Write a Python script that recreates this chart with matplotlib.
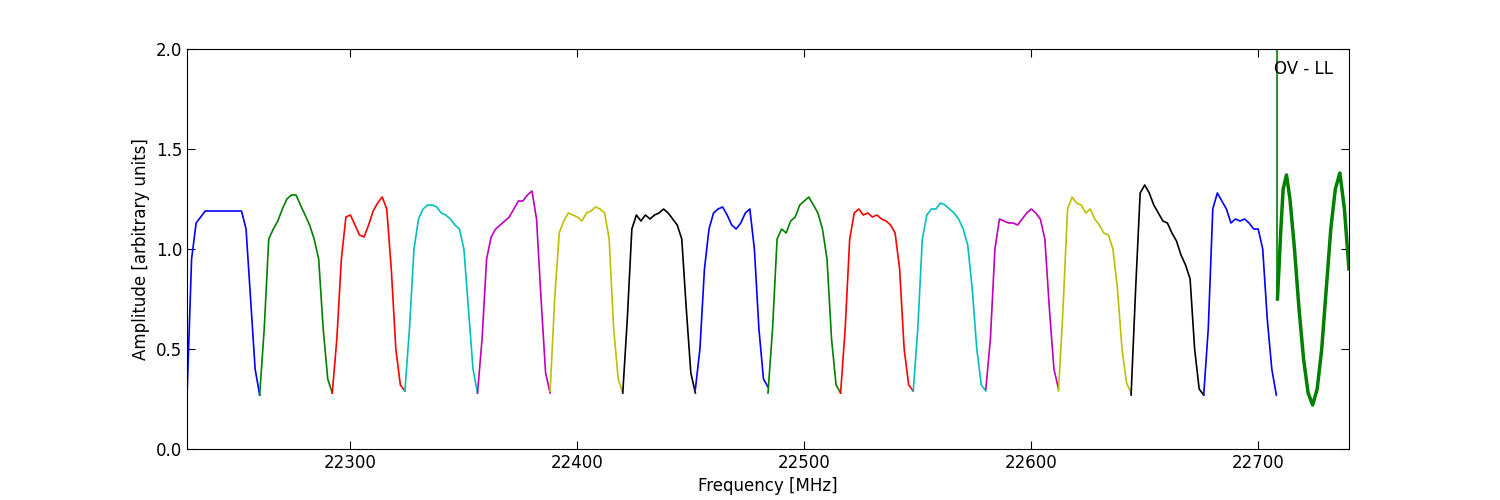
import matplotlib
matplotlib.use("Agg")
import matplotlib.pyplot as plt
import numpy as np

band_starts = [22228, 22260, 22292, 22324, 22356, 22388, 22420, 22452,
               22484, 22516, 22548, 22580, 22612, 22644, 22676]
band_colors = ['b', 'g', 'r', 'c', 'm', 'y', 'k', 'b', 'g', 'r', 'c', 'm', 'y', 'k', 'b']
band_offsets = list(range(0, 33, 2))
band_values = [
    [.27, .95, 1.13, 1.16, 1.19, 1.19, 1.19, 1.19, 1.19, 1.19, 1.19, 1.19, 1.19, 1.1, .75, .4, .27],
    [.27, .6, 1.05, 1.1, 1.14, 1.2, 1.25, 1.27, 1.27, 1.22, 1.17, 1.12, 1.05, .95, .6, .35, .28],
    [.28, .55, .95, 1.16, 1.17, 1.12, 1.07, 1.06, 1.12, 1.19, 1.23, 1.26, 1.2, .9, .5, .32, .29],
    [.29, .6, 1.0, 1.15, 1.2, 1.22, 1.22, 1.21, 1.18, 1.17, 1.15, 1.12, 1.1, 1.0, .7, .4, .28],
    [.28, .55, .95, 1.06, 1.1, 1.12, 1.14, 1.16, 1.2, 1.24, 1.24, 1.27, 1.29, 1.15, .75, .38, .28],
    [.29, .75, 1.08, 1.14, 1.18, 1.17, 1.16, 1.14, 1.18, 1.19, 1.21, 1.2, 1.18, 1.05, .6, .35, .28],
    [.28, .65, 1.1, 1.17, 1.14, 1.17, 1.15, 1.17, 1.18, 1.2, 1.18, 1.15, 1.12, 1.05, .7, .38, .28],
    [.3, .5, .9, 1.1, 1.18, 1.2, 1.21, 1.17, 1.12, 1.1, 1.13, 1.18, 1.2, 1.0, .6, .35, .31],
    [.28, .6, 1.05, 1.1, 1.08, 1.14, 1.16, 1.22, 1.24, 1.26, 1.22, 1.18, 1.1, .95, .55, .32, .28],
    [.28, .6, 1.05, 1.18, 1.2, 1.17, 1.18, 1.16, 1.17, 1.15, 1.14, 1.12, 1.08, .9, .5, .32, .29],
    [.29, .6, 1.05, 1.17, 1.2, 1.2, 1.23, 1.22, 1.2, 1.18, 1.15, 1.1, 1.02, .8, .5, .32, .29],
    [.3, .55, 1.0, 1.15, 1.14, 1.13, 1.13, 1.12, 1.15, 1.18, 1.2, 1.18, 1.15, 1.05, .7, .4, .3],
    [.29, .7, 1.2, 1.26, 1.23, 1.22, 1.18, 1.2, 1.15, 1.12, 1.08, 1.07, 1.0, .8, .5, .33, .28],
    [.27, .8, 1.28, 1.32, 1.28, 1.22, 1.18, 1.14, 1.13, 1.08, 1.04, .97, .92, .85, .5, .3, .27],
    [.27, .6, 1.2, 1.28, 1.24, 1.2, 1.13, 1.15, 1.14, 1.15, 1.13, 1.1, 1.1, 1.0, .65, .4, .27],
]
ov_freq = [22708.5, 22710, 22711, 22712.5, 22714, 22716, 22718, 22720, 22722, 22724,
           22726, 22728, 22730, 22732, 22734, 22736, 22738, 22740]
ov_amp = [.75, 1.1, 1.3, 1.37, 1.25, 1.0, .7, .45, .28, .22,
          .3, .5, .8, 1.1, 1.3, 1.38, 1.2, .9]
spike_freq = 22708.5

fig = plt.figure(figsize=(15, 5), dpi=100)
ax = fig.add_axes([0.1247, 0.102, 0.7746, 0.8])
for s, c, v in zip(band_starts, band_colors, band_values):
    ax.plot([s + o for o in band_offsets], v, color=c, lw=1.2)
ax.plot([spike_freq, spike_freq], [ov_amp[0], 2.0], color='g', lw=1.2)
ax.plot(ov_freq, ov_amp, color='g', lw=2.5)
ax.text(22720, 1.9, 'OV - LL', ha='center', va='center', fontsize=12)
ax.set_xlim(22228, 22740)
ax.set_ylim(0, 2.0)
ax.set_xticks([22300, 22400, 22500, 22600, 22700])
ax.set_yticks([0.0, 0.5, 1.0, 1.5, 2.0])
ax.tick_params(direction='in', top=True, right=True, labelsize=12, length=6)
ax.set_xlabel('Frequency [MHz]', fontsize=12, labelpad=4)
ax.set_ylabel('Amplitude [arbitrary units]', fontsize=12)
fig.savefig('out.png', dpi=100)
